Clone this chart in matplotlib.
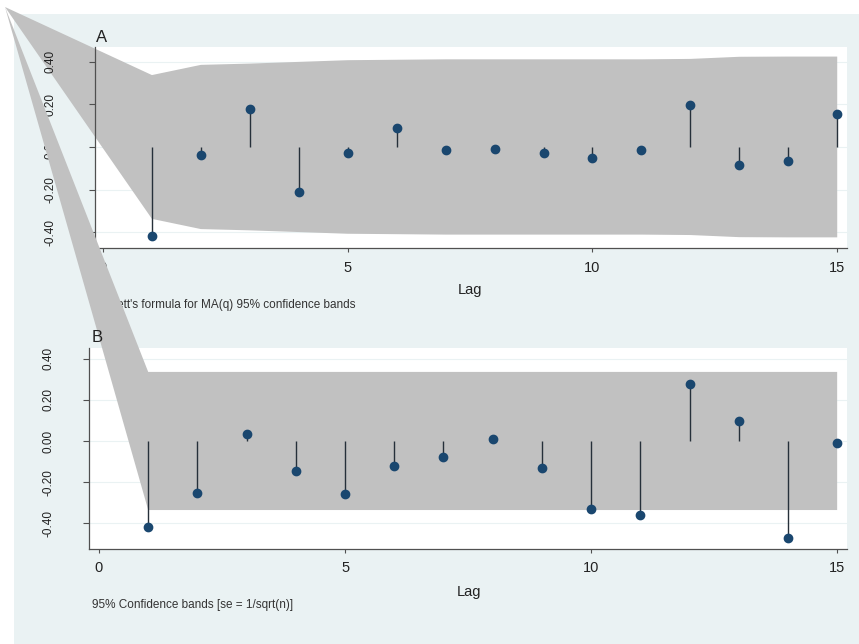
import numpy as np
import matplotlib
matplotlib.use("Agg")
import matplotlib.pyplot as plt
from matplotlib.patches import Rectangle, Polygon

plt.rcParams['font.family'] = ['Liberation Sans', 'DejaVu Sans']

# ---- data ----
lags = np.arange(1, 16)

# A: autocorrelations with Bartlett MA(q) band half-widths
acf_vals = [-0.42, -0.038, 0.18, -0.21, -0.03, 0.09, -0.015, -0.01,
            -0.03, -0.05, -0.015, 0.195, -0.085, -0.065, 0.155]
acf_band = [0.338, 0.386, 0.392, 0.400, 0.408, 0.410, 0.412, 0.412,
            0.412, 0.412, 0.412, 0.414, 0.424, 0.425, 0.425]

# B: partial autocorrelations with 1/sqrt(n) band
pacf_vals = [-0.417, -0.25, 0.034, -0.146, -0.257, -0.121, -0.078, 0.01,
             -0.131, -0.33, -0.359, 0.277, 0.097, -0.47, -0.01]
pacf_band = [0.335] * 15

yticks = [-0.40, -0.20, 0.00, 0.20, 0.40]
xticks = [0, 5, 10, 15]

# ---- styling ----
W, H = 859, 644
BG = '#eaf2f3'
BAND = '#c1c1c1'
MARK = '#1a476f'
STEM = '#26303a'
AXC = '#505050'
APEX = (5 / W, 1 - 7 / H)   # where the band outline starts (figure fraction)


def px_axes(left, top, right, bottom):
    return [left / W, 1 - bottom / H, (right - left) / W, (bottom - top) / H]


fig = plt.figure(figsize=(W / 100, H / 100), dpi=100)
fig.patch.set_facecolor('white')
fig.patches.append(Rectangle((14 / W, 0), 1, 1 - 14 / H, transform=fig.transFigure,
                             facecolor=BG, edgecolor='none', zorder=-5))

ax_a = fig.add_axes(px_axes(95, 47, 847, 248))
ax_b = fig.add_axes(px_axes(89, 348, 847, 549))


def panel(ax, vals, band, xlim, ylim, ypad):
    ax.set_xlim(*xlim)
    ax.set_ylim(*ylim)
    ax.set_facecolor('white')
    ax.set_axisbelow(False)
    for s in ('top', 'right'):
        ax.spines[s].set_visible(False)
    for s in ('left', 'bottom'):
        ax.spines[s].set_color(AXC)
        ax.spines[s].set_linewidth(0.9)

    ax.set_yticks(yticks)
    ax.set_yticklabels([f'{v:.2f}' for v in yticks], rotation=90, va='center')
    ax.set_xticks(xticks)
    ax.tick_params(axis='x', length=3, width=0.8, color=AXC, pad=6,
                   labelsize=10.5, labelcolor='#222222')
    ax.tick_params(axis='y', length=4, width=0.8, color=AXC, pad=ypad,
                   labelsize=8.5, labelcolor='#222222')
    # faint horizontal grid under the band
    for yv in yticks:
        ax.axhline(yv, color=BG, linewidth=0.8, zorder=0.6)

    # confidence band, its outline opening from the apex point
    band = np.asarray(band)
    apex = ax.transData.inverted().transform(fig.transFigure.transform(APEX))
    verts = [tuple(apex)]
    verts += list(zip(lags, band))
    verts += list(zip(lags[::-1], -band[::-1]))
    ax.add_patch(Polygon(verts, closed=True, facecolor=BAND, edgecolor='none',
                         clip_on=False, zorder=1))

    ax.vlines(lags, 0, vals, color=STEM, linewidth=1.0, zorder=3)
    ax.plot(lags, vals, 'o', color=MARK, markersize=6, zorder=4)

    ax.set_xlabel('Lag', fontsize=10.5, color='#222222', labelpad=4)


panel(ax_a, acf_vals, acf_band, (-0.163, 15.2), (-0.475, 0.47), 24)
panel(ax_b, pacf_vals, pacf_band, (-0.203, 15.2), (-0.524, 0.451), 21)

ax_a.xaxis.set_label_coords((470 - 95) / (847 - 95), -(283 - 248) / (248 - 47))
ax_b.xaxis.set_label_coords((469 - 89) / (847 - 89), -(585 - 549) / (549 - 348))

ax_a.text(96 / W, 1 - 38 / H, 'A', transform=fig.transFigure, fontsize=12,
          va='center', ha='left', color='#222222')
ax_a.text(93 / W, 1 - 305 / H, "Bartlett's formula for MA(q) 95% confidence bands",
          transform=fig.transFigure, fontsize=8.5, va='center', ha='left',
          color='#333333')
ax_b.text(92 / W, 1 - 337 / H, 'B', transform=fig.transFigure, fontsize=12,
          va='center', ha='left', color='#222222')
ax_b.text(92 / W, 1 - 605 / H, '95% Confidence bands [se = 1/sqrt(n)]',
          transform=fig.transFigure, fontsize=8.5, va='center', ha='left',
          color='#333333')

fig.savefig('out.png', dpi=100, facecolor=fig.get_facecolor())
